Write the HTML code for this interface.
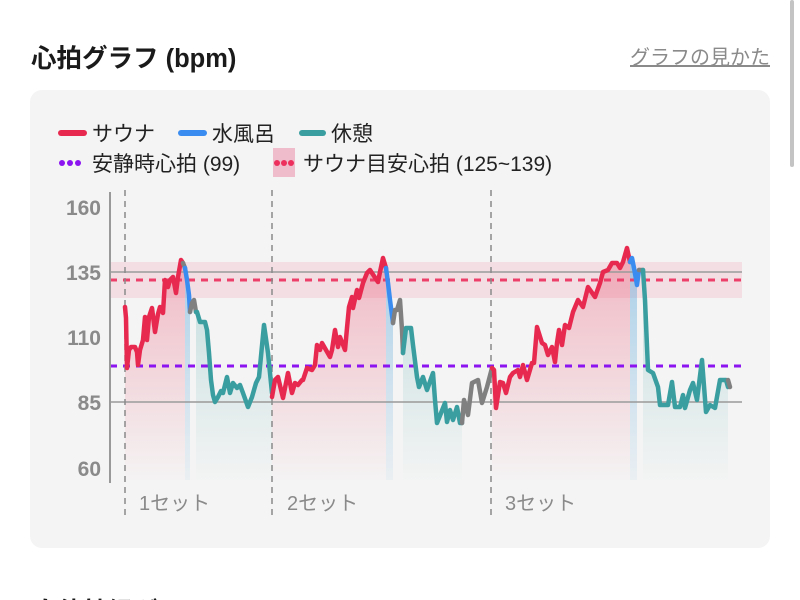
<!DOCTYPE html>
<html><head><meta charset="utf-8"><style>
html,body{margin:0;padding:0;background:#fff;width:800px;height:600px;overflow:hidden}
svg{display:block}
text{font-family:"Liberation Sans","Noto Sans CJK JP",sans-serif}
</style></head><body>
<svg width="800" height="600" viewBox="0 0 800 600" xmlns="http://www.w3.org/2000/svg">
<defs>
<linearGradient id="gr" gradientUnits="userSpaceOnUse" x1="0" y1="250" x2="0" y2="485">
<stop offset="0" stop-color="#e8294f" stop-opacity="0.3"/><stop offset="1" stop-color="#e8294f" stop-opacity="0"/></linearGradient>
<linearGradient id="gt" gradientUnits="userSpaceOnUse" x1="0" y1="250" x2="0" y2="485">
<stop offset="0" stop-color="#3a9ea0" stop-opacity="0.28"/><stop offset="1" stop-color="#3a9ea0" stop-opacity="0"/></linearGradient>
<linearGradient id="gb" gradientUnits="userSpaceOnUse" x1="0" y1="250" x2="0" y2="485">
<stop offset="0" stop-color="#4a9fd8" stop-opacity="0.45"/><stop offset="1" stop-color="#4a9fd8" stop-opacity="0.05"/></linearGradient>
</defs>
<rect x="0" y="0" width="800" height="600" fill="#fff"/>
<rect x="790" y="0" width="4" height="167" rx="2" fill="#c4c4c4"/>
<text x="31" y="67" font-size="25.5" font-weight="bold" fill="#1a1a1a">心拍グラフ (bpm)</text>
<text x="770" y="64" font-size="20" fill="#8a8a8a" text-anchor="end" text-decoration="underline">グラフの見かた</text>
<rect x="30" y="90" width="740" height="458" rx="12" fill="#f4f4f4"/>
<!-- legend -->
<line x1="61" y1="133" x2="84" y2="133" stroke="#e8294f" stroke-width="6" stroke-linecap="round"/>
<text x="92" y="141" font-size="21" fill="#222">サウナ</text>
<line x1="181" y1="133" x2="204" y2="133" stroke="#3b8cf0" stroke-width="6" stroke-linecap="round"/>
<text x="212" y="141" font-size="21" fill="#222">水風呂</text>
<line x1="302" y1="133" x2="323" y2="133" stroke="#3a9ea0" stroke-width="6" stroke-linecap="round"/>
<text x="331" y="141" font-size="21" fill="#222">休憩</text>
<g fill="#8b14f0"><circle cx="62" cy="163" r="3"/><circle cx="70" cy="163" r="3"/><circle cx="78" cy="163" r="3"/></g>
<text x="92" y="171" font-size="21" fill="#222">安静時心拍 (99)</text>
<rect x="273" y="148" width="22" height="29" fill="#eebccb"/>
<g fill="#ec2f5c"><circle cx="277" cy="163" r="3"/><circle cx="284" cy="163" r="3"/><circle cx="291" cy="163" r="3"/></g>
<text x="303" y="171" font-size="21" fill="#222">サウナ目安心拍 (125~139)</text>
<!-- band -->
<rect x="110" y="262" width="632" height="36" fill="#e8294f" fill-opacity="0.1"/>
<!-- fills -->
<g>
<polygon fill="url(#gr)" points="125,307 126,318 127,368 129,350 131,347 135,347 137,352 138,365 140,350 143,340 145,317 147,340 149,317 152,308 155,332 158,314 160,307 163,313 165,280 168,287 170,280 173,277 176,293 178,277 181,260 183,263 185,268 185,480 125,480"/>
<polygon fill="url(#gb)" points="185,268 187,280 189,295 190,312 190,480 185,480"/>
<polygon fill="url(#gt)" points="196,312 197,312 200,322 205,322 207,330 209,353 211,380 213,395 215,402 218,397 221,391 223,393 227,377 230,393 233,383 237,388 240,385 243,393 248,407 252,397 256,383 259,377 264,325 268,353 272,393 272,480 196,480"/>
<polygon fill="url(#gr)" points="272,397 275,380 278,377 283,398 288,373 292,393 295,383 298,385 302,380 303,380 307,368 312,370 315,365 317,345 320,350 322,343 330,357 332,350 335,330 338,347 340,337 345,350 347,328 349,307 352,297 353,308 357,290 359,298 363,283 367,273 370,270 378,282 380,272 383,258 386,268 386,480 272,480"/>
<polygon fill="url(#gb)" points="386,268 388,283 390,300 393,323 393,480 386,480"/>
<polygon fill="url(#gt)" points="403,353 406,328 411,328 413,345 417,377 419,387 423,377 427,390 433,373 435,400 437,423 445,403 447,422 450,410 453,420 457,407 460,423 462,423 462,480 403,480"/>
<polygon fill="url(#gr)" points="492,368 494,370 496,408 500,382 503,383 506,393 510,377 513,373 518,370 520,377 523,365 527,380 532,363 534,363 537,327 542,343 545,345 548,355 552,347 555,362 557,343 559,330 562,345 565,325 569,328 573,312 578,300 583,307 588,287 595,297 600,283 603,272 608,270 612,263 617,263 620,268 623,262 627,248 630,262 630,480 492,480"/>
<polygon fill="url(#gb)" points="630,262 632,258 634,268 637,285 637,480 630,480"/>
<polygon fill="url(#gt)" points="643,270 645,300 648,370 653,373 658,387 660,405 668,405 672,382 675,407 680,407 683,395 685,408 690,390 693,383 697,400 702,360 706,412 710,405 715,408 720,380 726,380 728,387 728,480 643,480"/>
</g>
<!-- gridlines -->
<line x1="110" y1="272" x2="742" y2="272" stroke="#9a9a9a" stroke-width="1.5"/>
<line x1="110" y1="402" x2="742" y2="402" stroke="#9a9a9a" stroke-width="1.5"/>
<line x1="110" y1="280" x2="742" y2="280" stroke="#ec3f6a" stroke-width="3" stroke-dasharray="7,6"/>
<line x1="110" y1="366" x2="742" y2="366" stroke="#8b14f0" stroke-width="3" stroke-dasharray="7,6"/>
<line x1="110" y1="192" x2="110" y2="483" stroke="#999" stroke-width="2"/>
<g stroke="#8a8a8a" stroke-width="1.5" stroke-dasharray="6,5">
<line x1="125" y1="190" x2="125" y2="520"/>
<line x1="272" y1="190" x2="272" y2="520"/>
<line x1="491" y1="190" x2="491" y2="520"/>
</g>
<!-- series -->
<g fill="none" stroke-width="4.5" stroke-linejoin="round" stroke-linecap="round">
<polyline stroke="#e8294f" points="125,307 126,318 127,368 129,350 131,347 135,347 137,352 138,365 140,350 143,340 145,317 147,340 149,317 152,308 155,332 158,314 160,307 163,313 165,280 168,287 170,280 173,277 176,293 178,277 181,260 183,263"/>
<polyline stroke="#808080" points="183,263 185,268"/>
<polyline stroke="#3b8cf0" points="185,268 187,280 189,295 190,312"/>
<polyline stroke="#808080" points="190,312 192,303 194,300 196,312"/>
<polyline stroke="#3a9ea0" points="196,312 197,312 200,322 205,322 207,330 209,353 211,380 213,395 215,402 218,397 221,391 223,393 227,377 230,393 233,383 237,388 240,385 243,393 248,407 252,397 256,383 259,377 264,325 268,353 272,393"/>
<polyline stroke="#e8294f" points="272,397 275,380 278,377 283,398 288,373 292,393 295,383 298,385 302,380 303,380 307,368 312,370 315,365 317,345 320,350 322,343 330,357 332,350 335,330 338,347 340,337 345,350 347,328 349,307 352,297 353,308 357,290 359,298 363,283 367,273 370,270 378,282 380,272 383,258 386,268"/>
<polyline stroke="#3b8cf0" points="386,268 388,283 390,300 393,323"/>
<polyline stroke="#808080" points="393,323 395,310 397,310 400,300 402,330 403,353"/>
<polyline stroke="#3a9ea0" points="403,353 406,328 411,328 413,345 417,377 419,387 423,377 427,390 433,373 435,400 437,423 445,403 447,422 450,410 453,420 457,407 460,423 462,423"/>
<polyline stroke="#808080" points="462,423 464,400 468,415 472,383 478,380 482,403 487,387 492,368"/>
<polyline stroke="#e8294f" points="492,368 494,370 496,408 500,382 503,383 506,393 510,377 513,373 518,370 520,377 523,365 527,380 532,363 534,363 537,327 542,343 545,345 548,355 552,347 555,362 557,343 559,330 562,345 565,325 569,328 573,312 578,300 583,307 588,287 595,297 600,283 603,272 608,270 612,263 617,263 620,268 623,262 627,248 630,262"/>
<polyline stroke="#3b8cf0" points="630,262 632,258 634,268 637,285 639,270"/>
<polyline stroke="#808080" points="639,270 643,270"/>
<polyline stroke="#3a9ea0" points="643,270 645,300 648,370 653,373 658,387 660,405 668,405 672,382 675,407 680,407 683,395 685,408 690,390 693,383 697,400 702,360 706,412 710,405 715,408 720,380 726,380 728,387"/>
<polyline stroke="#808080" points="728,380 730,387"/>
</g>
<!-- y labels -->
<g font-size="21" font-weight="bold" fill="#8a8a8a" text-anchor="end">
<text x="101" y="215">160</text>
<text x="101" y="280">135</text>
<text x="101" y="345">110</text>
<text x="101" y="410">85</text>
<text x="101" y="476">60</text>
</g>
<g font-size="20" fill="#8a8a8a">
<text x="139" y="510">1セット</text>
<text x="287" y="510">2セット</text>
<text x="505" y="510">3セット</text>
</g>
<text x="33" y="620" font-size="25" font-weight="bold" fill="#1a1a1a">自律神経グラフ (ms)</text>
<text x="770" y="618" font-size="20" fill="#8a8a8a" text-anchor="end">グラフの見かた</text>
</svg>
</body></html>
